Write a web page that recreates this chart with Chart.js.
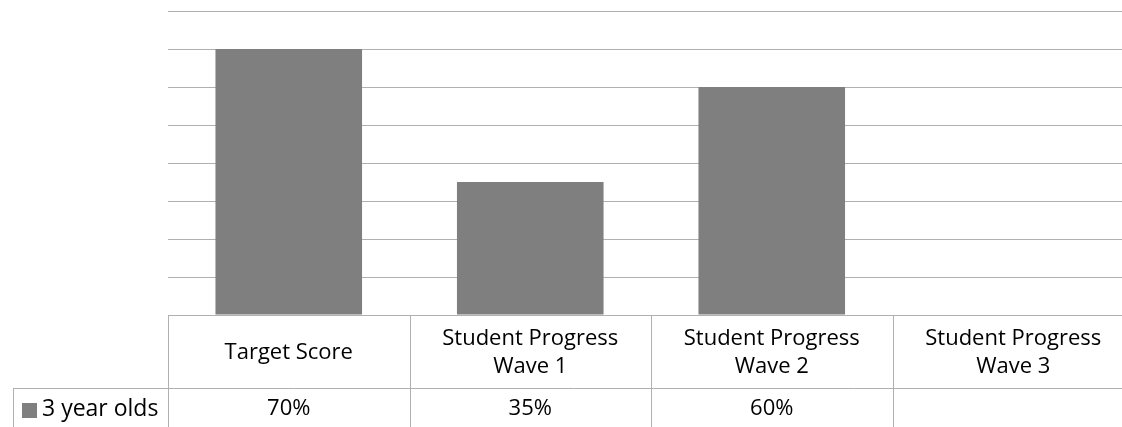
<!DOCTYPE html>
<html>
<head>
<meta charset="utf-8">
<script src="https://cdn.jsdelivr.net/npm/chart.js@4/dist/chart.umd.min.js"></script>
<style>
  html, body { margin: 0; padding: 0; background: #fff; overflow: hidden; }
  canvas { display: block; }
</style>
</head>
<body>
<canvas id="chart" width="1140" height="427"></canvas>
<script>
const c = document.getElementById('chart').getContext('2d');

const categories = [
    ['Target Score'],
    ['Student Progress', 'Wave 1'],
    ['Student Progress', 'Wave 2'],
    ['Student Progress', 'Wave 3']
];
const seriesName = '3 year olds';
const values = [0.70, 0.35, 0.60, null];
const tableText = ['70%', '35%', '60%', ''];

const FONT = '"Open Sans", sans-serif';
const barColor = '#7f7f7f';
const lineColor = '#b0b0b0';

// draws the data table under the plot, lined up with the x scale
const dataTable = {
    id: 'dataTable',
    afterDraw(chart) {
        const ctx = chart.ctx;
        const x = chart.scales.x;
        const top = chart.chartArea.bottom;
        const mid = top + 73;
        const bottom = chart.height + 5;
        const step = (x.right - x.left) / categories.length;
        const keyLeft = 13;

        ctx.save();
        ctx.strokeStyle = lineColor;
        ctx.lineWidth = 1;
        ctx.beginPath();
        // top of table (axis line)
        ctx.moveTo(x.left, top + 0.5);
        ctx.lineTo(x.right, top + 0.5);
        // row divider
        ctx.moveTo(keyLeft, mid + 0.5);
        ctx.lineTo(x.right, mid + 0.5);
        // left edge of legend column
        ctx.moveTo(keyLeft + 0.5, mid);
        ctx.lineTo(keyLeft + 0.5, bottom);
        for (let i = 0; i <= categories.length; i++) {
            const px = Math.round(x.left + i * step) + 0.5;
            ctx.moveTo(px, top);
            ctx.lineTo(px, bottom);
        }
        ctx.stroke();

        ctx.fillStyle = '#000';
        ctx.font = '22px ' + FONT;
        ctx.textAlign = 'center';
        ctx.textBaseline = 'middle';
        categories.forEach((lines, i) => {
            const cx = x.getPixelForValue(i);
            const lh = 28;
            const y0 = (top + mid) / 2 - (lines.length - 1) * lh / 2 + 1;
            lines.forEach((t, j) => ctx.fillText(t, cx, y0 + j * lh));
            ctx.fillText(tableText[i], cx, mid + 21);
        });

        // legend key
        ctx.fillStyle = barColor;
        ctx.fillRect(22, mid + 15, 15, 15);
        ctx.fillStyle = '#000';
        ctx.textAlign = 'left';
        ctx.font = '23px ' + FONT;
        ctx.fillText(seriesName, 42, mid + 21);
        ctx.restore();
    }
};

const data = {
    labels: categories.map(l => l.join(' ')),
    datasets: [
        {
            label: seriesName,
            data: values,
            backgroundColor: barColor,
            borderWidth: 0,
            categoryPercentage: 1,
            barPercentage: 0.607
        }
    ]
};

const config = {
    type: 'bar',
    data: data,
    options: {
        responsive: false,
        devicePixelRatio: 1,
        animation: false,
        layout: {
            padding: { left: 168, top: 11, right: 6, bottom: 112 }
        },
        plugins: {
            legend: { display: false },
            tooltip: { enabled: false }
        },
        scales: {
            x: {
                display: false
            },
            y: {
                min: 0,
                max: 0.8,
                ticks: { display: false, stepSize: 0.1 },
                border: { display: false },
                grid: { color: lineColor, lineWidth: 1, drawTicks: false, tickLength: 0 }
            }
        }
    },
    plugins: [dataTable]
};

const chart = new Chart(c, config);
</script>
</body>
</html>
